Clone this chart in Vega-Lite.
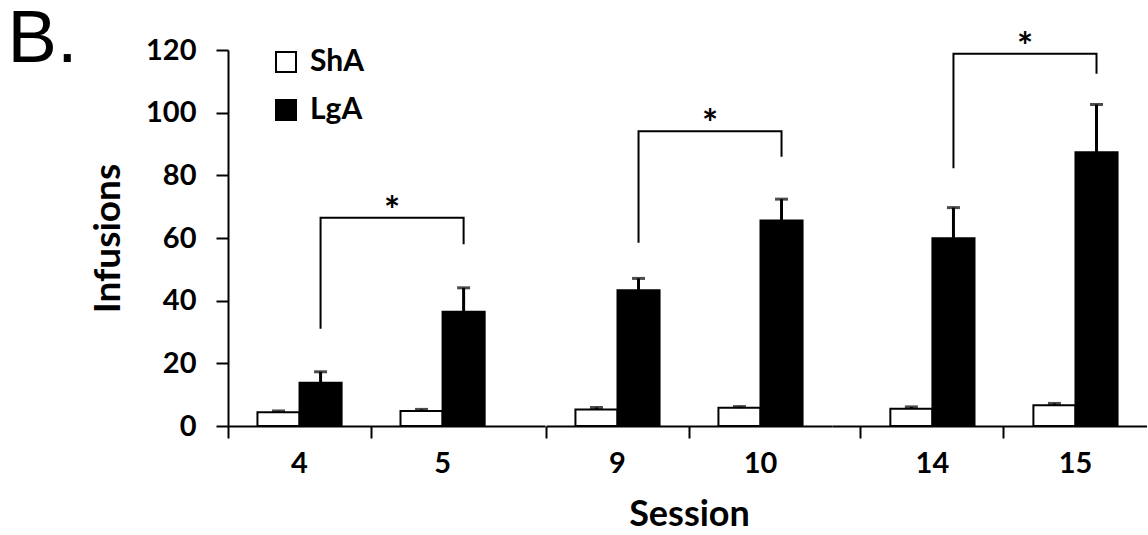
{
  "$schema": "https://vega.github.io/schema/vega-lite/v6.json",
  "background": "white",
  "padding": {"left": 7, "top": 3, "right": 0, "bottom": 0},
  "title": {
    "text": "B.",
    "orient": "left",
    "anchor": "end",
    "frame": "group",
    "angle": 0,
    "align": "left",
    "baseline": "top",
    "font": "Liberation Sans",
    "fontSize": 74,
    "fontWeight": "normal",
    "color": "black",
    "offset": 12,
    "dy": -46
  },
  "datasets": {
    "sessions": [
      {"session": 4, "group": "ShA", "mean": 4.4, "upper": 4.8},
      {"session": 4, "group": "LgA", "mean": 13.8, "upper": 17.3},
      {"session": 5, "group": "ShA", "mean": 4.8, "upper": 5.3},
      {"session": 5, "group": "LgA", "mean": 36.5, "upper": 44.1},
      {"session": 9, "group": "ShA", "mean": 5.3, "upper": 5.9},
      {"session": 9, "group": "LgA", "mean": 43.3, "upper": 47.1},
      {"session": 10, "group": "ShA", "mean": 5.8, "upper": 6.2},
      {"session": 10, "group": "LgA", "mean": 65.6, "upper": 72.4},
      {"session": 14, "group": "ShA", "mean": 5.5, "upper": 6.1},
      {"session": 14, "group": "LgA", "mean": 59.9, "upper": 69.7},
      {"session": 15, "group": "ShA", "mean": 6.6, "upper": 7.2},
      {"session": 15, "group": "LgA", "mean": 87.4, "upper": 102.6}
    ],
    "brackets": [
      {"bracket": 1, "session": 4, "group": "LgA", "level": 31.0, "pt": 1},
      {"bracket": 1, "session": 4, "group": "LgA", "level": 66.5, "pt": 2},
      {"bracket": 1, "session": 5, "group": "LgA", "level": 66.5, "pt": 3},
      {"bracket": 1, "session": 5, "group": "LgA", "level": 58.0, "pt": 4},
      {"bracket": 2, "session": 9, "group": "LgA", "level": 58.5, "pt": 1},
      {"bracket": 2, "session": 9, "group": "LgA", "level": 94.1, "pt": 2},
      {"bracket": 2, "session": 10, "group": "LgA", "level": 94.1, "pt": 3},
      {"bracket": 2, "session": 10, "group": "LgA", "level": 85.9, "pt": 4},
      {"bracket": 3, "session": 14, "group": "LgA", "level": 82.3, "pt": 1},
      {"bracket": 3, "session": 14, "group": "LgA", "level": 118.8, "pt": 2},
      {"bracket": 3, "session": 15, "group": "LgA", "level": 118.8, "pt": 3},
      {"bracket": 3, "session": 15, "group": "LgA", "level": 112.4, "pt": 4}
    ],
    "stars": [
      {"session": 4, "group": "LgA", "level": 66.5, "label": "*"},
      {"session": 9, "group": "LgA", "level": 94.1, "label": "*"},
      {"session": 14, "group": "LgA", "level": 118.8, "label": "*"}
    ]
  },
  "spacing": 0,
  "hconcat": [
    {
      "width": 317,
      "height": 376,
      "encoding": {
        "x": {
          "field": "session", "type": "ordinal", "title": null,
          "scale": {"paddingInner": 0, "paddingOuter": 0.108, "align": 0},
          "axis": {"bandPosition": 0, "labelPadding": 11, "labelAngle": 0}
        },
        "xOffset": {"field": "group", "type": "nominal", "sort": ["ShA", "LgA"], "scale": {"paddingInner": 0, "paddingOuter": 0.7}}
      },
      "layer": [
        {
          "data": {"name": "sessions"},
          "transform": [{"filter": {"field": "session", "oneOf": [4, 5]}}],
          "mark": {"type": "bar", "stroke": "black", "strokeWidth": 2},
          "encoding": {
            "y": {
              "field": "mean", "type": "quantitative", "title": "Infusions",
              "scale": {"domain": [0, 120], "nice": false},
              "axis": {"values": [0, 20, 40, 60, 80, 100, 120], "labelPadding": 20, "titlePadding": 18, "titleFontSize": 37}
            },
            "fill": {
              "field": "group", "type": "nominal",
              "scale": {"domain": ["ShA", "LgA"], "range": ["white", "black"]},
              "legend": {
                "orient": "none", "legendX": 43, "legendY": -3, "title": null,
                "symbolType": "square", "symbolSize": 400, "symbolStrokeColor": "black", "symbolStrokeWidth": 2,
                "labelFont": "Lato", "labelFontWeight": "bold", "labelFontSize": 30, "labelColor": "black",
                "labelOffset": 9, "rowPadding": 18, "padding": 0
              }
            }
          }
        },
        {
          "data": {"name": "sessions"},
          "transform": [{"filter": {"field": "session", "oneOf": [4, 5]}}],
          "mark": {"type": "rule", "color": "black", "strokeWidth": 3},
          "encoding": {"y": {"field": "mean", "type": "quantitative", "title": "Infusions"}, "y2": {"field": "upper"}}
        },
        {
          "data": {"name": "sessions"},
          "transform": [{"filter": {"field": "session", "oneOf": [4, 5]}}],
          "mark": {"type": "tick", "color": "black", "size": 13, "thickness": 3},
          "encoding": {"y": {"field": "upper", "type": "quantitative", "title": "Infusions"}}
        },
        {
          "data": {"name": "brackets"},
          "transform": [{"filter": {"field": "session", "oneOf": [4, 5]}}],
          "mark": {"type": "line", "color": "black", "strokeWidth": 2},
          "encoding": {"y": {"field": "level", "type": "quantitative", "title": "Infusions"}, "order": {"field": "pt"}}
        },
        {
          "data": {"name": "stars"},
          "transform": [{"filter": {"field": "session", "oneOf": [4, 5]}}],
          "mark": {"type": "text", "font": "Lato", "fontWeight": "bold", "fontSize": 38, "dx": 71.5, "dy": 6, "baseline": "alphabetic", "color": "black"},
          "encoding": {"y": {"field": "level", "type": "quantitative", "title": "Infusions"}, "text": {"field": "label"}}
        }
      ]
    },
    {
      "width": 286,
      "height": 376,
      "encoding": {
        "x": {
          "field": "session", "type": "ordinal", "title": "Session",
          "scale": {"paddingInner": 0, "paddingOuter": 0},
          "axis": {"bandPosition": 0, "labelPadding": 11, "labelAngle": 0, "titlePadding": 19, "titleFontSize": 36}
        },
        "xOffset": {"field": "group", "type": "nominal", "sort": ["ShA", "LgA"], "scale": {"paddingInner": 0, "paddingOuter": 0.7}}
      },
      "layer": [
        {
          "data": {"name": "sessions"},
          "transform": [{"filter": {"field": "session", "oneOf": [9, 10]}}],
          "mark": {"type": "bar", "stroke": "black", "strokeWidth": 2},
          "encoding": {
            "y": {"field": "mean", "type": "quantitative", "axis": null},
            "fill": {"field": "group", "type": "nominal", "legend": null}
          }
        },
        {
          "data": {"name": "sessions"},
          "transform": [{"filter": {"field": "session", "oneOf": [9, 10]}}],
          "mark": {"type": "rule", "color": "black", "strokeWidth": 3},
          "encoding": {"y": {"field": "mean", "type": "quantitative", "axis": null}, "y2": {"field": "upper"}}
        },
        {
          "data": {"name": "sessions"},
          "transform": [{"filter": {"field": "session", "oneOf": [9, 10]}}],
          "mark": {"type": "tick", "color": "black", "size": 13, "thickness": 3},
          "encoding": {"y": {"field": "upper", "type": "quantitative", "axis": null}}
        },
        {
          "data": {"name": "brackets"},
          "transform": [{"filter": {"field": "session", "oneOf": [9, 10]}}],
          "mark": {"type": "line", "color": "black", "strokeWidth": 2},
          "encoding": {"y": {"field": "level", "type": "quantitative", "axis": null}, "order": {"field": "pt"}}
        },
        {
          "data": {"name": "stars"},
          "transform": [{"filter": {"field": "session", "oneOf": [9, 10]}}],
          "mark": {"type": "text", "font": "Lato", "fontWeight": "bold", "fontSize": 38, "dx": 71.5, "dy": 6, "baseline": "alphabetic", "color": "black"},
          "encoding": {"y": {"field": "level", "type": "quantitative", "axis": null}, "text": {"field": "label"}}
        }
      ]
    },
    {
      "width": 315,
      "height": 376,
      "encoding": {
        "x": {
          "field": "session", "type": "ordinal", "title": null,
          "scale": {"paddingInner": 0, "paddingOuter": 0.101, "align": 1},
          "axis": {"bandPosition": 0, "labelPadding": 11, "labelAngle": 0}
        },
        "xOffset": {"field": "group", "type": "nominal", "sort": ["ShA", "LgA"], "scale": {"paddingInner": 0, "paddingOuter": 0.7}}
      },
      "layer": [
        {
          "data": {"name": "sessions"},
          "transform": [{"filter": {"field": "session", "oneOf": [14, 15]}}],
          "mark": {"type": "bar", "stroke": "black", "strokeWidth": 2},
          "encoding": {
            "y": {"field": "mean", "type": "quantitative", "axis": null},
            "fill": {"field": "group", "type": "nominal", "legend": null}
          }
        },
        {
          "data": {"name": "sessions"},
          "transform": [{"filter": {"field": "session", "oneOf": [14, 15]}}],
          "mark": {"type": "rule", "color": "black", "strokeWidth": 3},
          "encoding": {"y": {"field": "mean", "type": "quantitative", "axis": null}, "y2": {"field": "upper"}}
        },
        {
          "data": {"name": "sessions"},
          "transform": [{"filter": {"field": "session", "oneOf": [14, 15]}}],
          "mark": {"type": "tick", "color": "black", "size": 13, "thickness": 3},
          "encoding": {"y": {"field": "upper", "type": "quantitative", "axis": null}}
        },
        {
          "data": {"name": "brackets"},
          "transform": [{"filter": {"field": "session", "oneOf": [14, 15]}}],
          "mark": {"type": "line", "color": "black", "strokeWidth": 2},
          "encoding": {"y": {"field": "level", "type": "quantitative", "axis": null}, "order": {"field": "pt"}}
        },
        {
          "data": {"name": "stars"},
          "transform": [{"filter": {"field": "session", "oneOf": [14, 15]}}],
          "mark": {"type": "text", "font": "Lato", "fontWeight": "bold", "fontSize": 38, "dx": 71.5, "dy": 6, "baseline": "alphabetic", "color": "black"},
          "encoding": {"y": {"field": "level", "type": "quantitative", "axis": null}, "text": {"field": "label"}}
        }
      ]
    }
  ],
  "resolve": {
    "scale": {"x": "independent", "xOffset": "independent", "y": "shared", "fill": "shared"},
    "legend": {"fill": "independent"}
  },
  "config": {
    "view": {"stroke": null},
    "font": "Lato",
    "axis": {
      "labelFont": "Lato", "labelFontWeight": "bold", "labelFontSize": 29, "labelColor": "black",
      "titleFont": "Lato", "titleFontWeight": "bold", "titleFontSize": 36, "titleColor": "black",
      "domainColor": "black", "domainWidth": 2, "tickColor": "black", "tickWidth": 2, "tickSize": 12, "grid": false
    }
  }
}
